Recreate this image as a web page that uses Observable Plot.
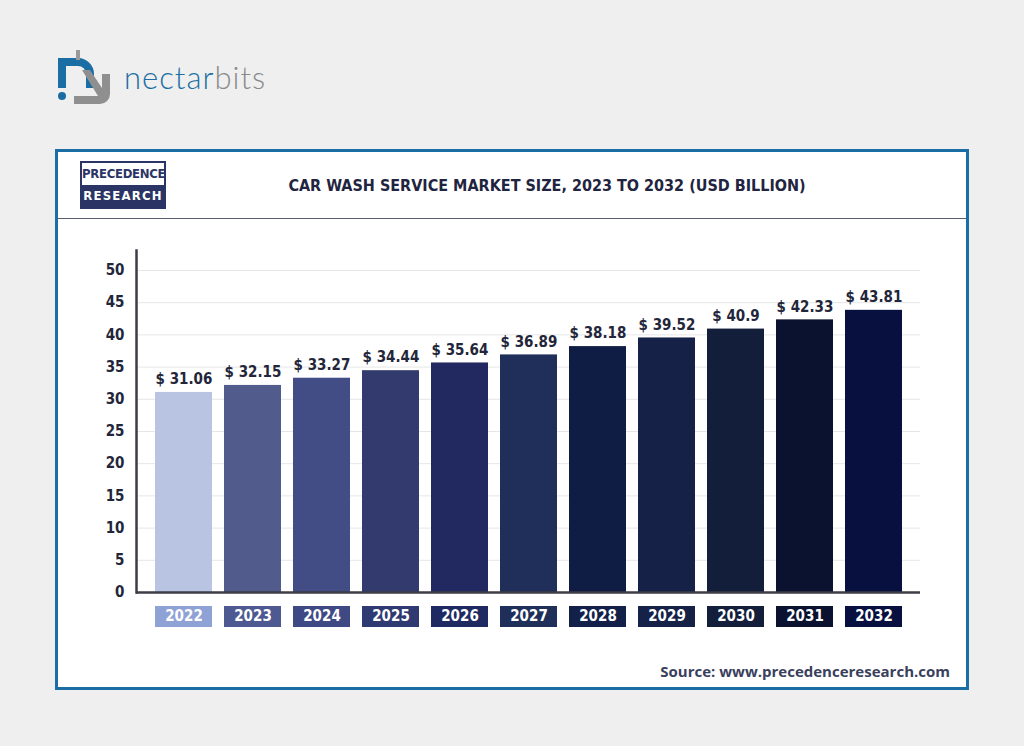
<!DOCTYPE html>
<html>
<head>
<meta charset="utf-8">
<script src="https://cdn.jsdelivr.net/npm/d3@7"></script>
<script src="https://cdn.jsdelivr.net/npm/@observablehq/plot@0.6"></script>
<style>
  html, body { margin: 0; padding: 0; }
  body { width: 1024px; height: 746px; background: #efefef; position: relative; overflow: hidden; font-family: "DejaVu Sans Condensed", "DejaVu Sans", sans-serif; font-stretch: condensed; }
  #logo { position: absolute; left: 52px; top: 46px; }
  #frame { position: absolute; left: 55px; top: 149px; width: 914px; height: 541px; box-sizing: border-box; border: 3px solid #1a6ea3; background: #fff; }
  #header { position: absolute; left: 0; top: 0; width: 908px; height: 66px; border-bottom: 1px solid #5a5d6e; }
  #pr { position: absolute; left: 22px; top: 9px; width: 86px; height: 48px; border: 2px solid #2a3566; box-sizing: border-box; overflow: hidden; }
  #pr .t { height: 22px; background: #fff; color: #2a3566; font-weight: bold; font-size: 13px; text-align: center; line-height: 22px; letter-spacing: -0.3px; }
  #pr .b { height: 22px; background: #2a3566; color: #fff; font-weight: bold; font-size: 13px; text-align: center; line-height: 22px; letter-spacing: 1.2px; }
  #title { position: absolute; left: 0; width: 908px; top: 24px; text-align: center; padding-left: 70px; box-sizing: border-box; font-weight: bold; font-size: 16px; color: #1f2440; letter-spacing: 0px; }
  #chart { position: absolute; left: 0; top: 78px; }
  #chart svg text { font-stretch: condensed; }
  #source { position: absolute; right: 16px; top: 509px; font-family: "Open Sans", "DejaVu Sans", sans-serif; font-stretch: normal; font-weight: bold; font-size: 15px; color: #3a3f5e; }
</style>
</head>
<body>
<svg id="logo" width="260" height="64" viewBox="0 0 260 64">
  <path d="M6 12 h20 a16 16 0 0 1 16 16 v14 h-8 v-14 a8 8 0 0 0 -8 -8 h-12 v22 h-8 z" fill="#1a6ea3"/>
  <circle cx="10" cy="50" r="4" fill="#1a6ea3"/>
  <rect x="24" y="4" width="4" height="10" fill="#999"/>
  <path d="M30 24 l8 0 l12 18 v-14 h8 v20 a10 10 0 0 1 -10 10 h-26 v-8 h24 z" fill="#8f8f8f"/>
  <text x="72" y="43" font-family="Lato, 'Open Sans', sans-serif" font-size="31" font-weight="300" fill="#1a6ea3" letter-spacing="1" style="font-stretch: normal">nectar<tspan fill="#8a8a8a">bits</tspan></text>
</svg>
<div id="frame">
  <div id="header">
    <div id="pr"><div class="t">PRECEDENCE</div><div class="b">RESEARCH</div></div>
    <div id="title">CAR WASH SERVICE MARKET SIZE, 2023 TO 2032 (USD BILLION)</div>
  </div>
  <div id="chart"></div>
  <div id="source">Source: www.precedenceresearch.com</div>
</div>
<script>
const years = ["2022","2023","2024","2025","2026","2027","2028","2029","2030","2031","2032"];
const values = [31.06, 32.15, 33.27, 34.44, 35.64, 36.89, 38.18, 39.52, 40.9, 42.33, 43.81];
const barColors = ["#b9c4e3","#525c8c","#424c85","#333b6e","#222960","#1f2f5a","#0f1c44","#152146","#121e3a","#0a1230","#07103f"];
const labelColors = ["#8fa2d6","#4d5990","#3f4a85","#2f3a72","#1f2a63","#1f2f5a","#13204a","#152146","#121e3a","#0a1230","#07103f"];
const yTicks = [0,5,10,15,20,25,30,35,40,45,50];

const data = years.map((y, i) => ({year: y, value: values[i], bar: barColors[i], lab: labelColors[i]}));

const W = 908, H = 410, mt = 20, mb = 48, ml = 78, mr = 46;
const frameH = H - mt - mb;
const font = "'DejaVu Sans Condensed', 'DejaVu Sans', sans-serif";

const chart = Plot.plot({
  width: W, height: H,
  marginTop: mt, marginBottom: mb, marginLeft: ml, marginRight: mr,
  style: {fontFamily: font, background: "transparent", overflow: "visible"},
  x: {domain: years, paddingInner: 0.18, paddingOuter: 0.25, axis: null},
  y: {domain: [0, 53.1], ticks: yTicks, grid: false},
  marks: [
    Plot.gridY(yTicks, {stroke: "#e6e6e6", strokeOpacity: 1}),
    Plot.barY(data, {x: "year", y: "value", fill: "bar"}),
    Plot.cell(data, {x: "year", fill: "lab", insetTop: frameH + 14, insetBottom: -35}),
    Plot.text(data, {x: "year", frameAnchor: "bottom", dy: 28, text: "year", fill: "#fff", fontSize: 15, fontWeight: "bold"}),
    Plot.text(data, {x: "year", y: "value", text: d => "$ " + d.value, dy: -13, fill: "#23263a", fontSize: 15, fontWeight: "bold"}),
    Plot.axisY(yTicks, {tickSize: 0, tickPadding: 12, fontSize: 15, fontWeight: "bold", color: "#23263a", label: null}),
    Plot.ruleY([0], {stroke: "#3d3d45", strokeWidth: 2.5}),
    Plot.frame({anchor: "left", stroke: "#3d3d45", strokeWidth: 2.5})
  ]
});
document.getElementById("chart").appendChild(chart);
</script>
</body>
</html>
